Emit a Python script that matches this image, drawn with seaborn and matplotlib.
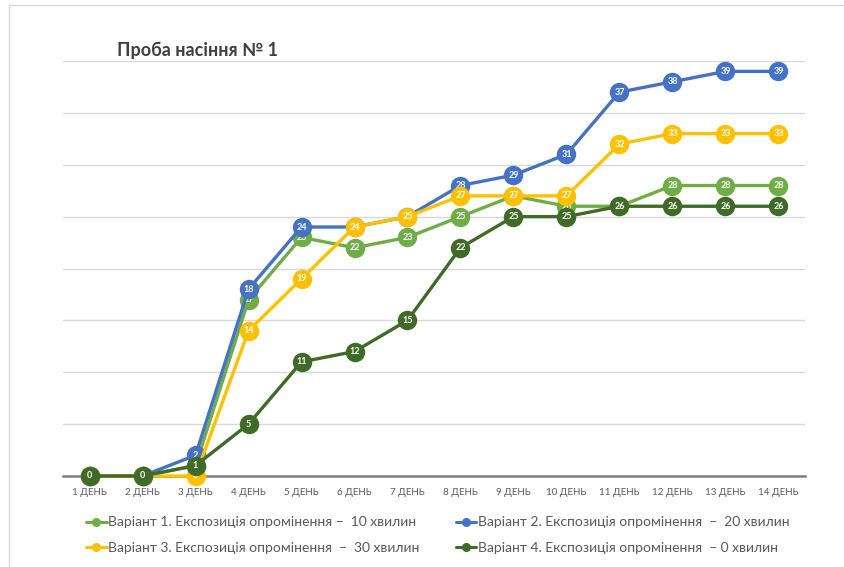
import numpy as np
import pandas as pd
import seaborn as sns
import matplotlib.pyplot as plt
from matplotlib.lines import Line2D

# Data
days = ['1 ДЕНЬ', '2 ДЕНЬ', '3 ДЕНЬ', '4 ДЕНЬ', '5 ДЕНЬ', '6 ДЕНЬ', '7 ДЕНЬ',
        '8 ДЕНЬ', '9 ДЕНЬ', '10 ДЕНЬ', '11 ДЕНЬ', '12 ДЕНЬ', '13 ДЕНЬ', '14 ДЕНЬ']
variant1 = [0, 0, 1, 17, 23, 22, 23, 25, 27, 26, 26, 28, 28, 28]
variant2 = [0, 0, 2, 18, 24, 24, 25, 28, 29, 31, 37, 38, 39, 39]
variant3 = [0, 0, 0, 14, 19, 24, 25, 27, 27, 27, 32, 33, 33, 33]
variant4 = [0, 0, 1, 5, 11, 12, 15, 22, 25, 25, 26, 26, 26, 26]
labels = [
    'Варіант 1. Експозиція опромінення –  10 хвилин',
    'Варіант 2. Експозиція опромінення  –  20 хвилин',
    'Варіант 3. Експозиція опромінення  –  30 хвилин',
    'Варіант 4. Експозиція опромінення  – 0 хвилин',
]
colors = ['#70AD47', '#4472C4', '#FFC000', '#3F6A27']
title = 'Проба насіння № 1'

sns.set_theme(style='white')
plt.rcParams['font.family'] = ['Lato', 'DejaVu Sans']

fig = plt.figure(figsize=(8.45, 5.67), dpi=100)
ax = fig.add_axes([0.0746, 0.1605, 0.878, 0.7319])

x = np.arange(len(days))
series = [variant1, variant2, variant3, variant4]
handles = []
for i, (vals, lab, col) in enumerate(zip(series, labels, colors)):
    sns.lineplot(x=x, y=vals, ax=ax, color=col, linewidth=2.4, marker='o',
                 markersize=14, markeredgewidth=0, zorder=3 + i, clip_on=False)
    for xi, v in zip(x, vals):
        ax.text(xi, v, str(v), color='white', fontsize=6.5, fontweight='bold',
                ha='center', va='center', zorder=3 + i, clip_on=False)
    handles.append(Line2D([0], [0], color=col, linewidth=2.2, marker='o',
                          markersize=5.5, label=lab))

ax.set_xlim(-0.5, len(days) - 0.5)
ax.set_ylim(0, 40)
ax.set_yticks(np.arange(0, 41, 5))
ax.set_yticklabels([])
ax.tick_params(axis='y', length=0)
ax.yaxis.grid(True, color='#d9d9d9', linewidth=1)
ax.set_axisbelow(True)
ax.set_xticks(x)
ax.set_xticklabels(days, fontsize=7, color='#595959')
ax.tick_params(axis='x', length=0, pad=9)
for s in ['top', 'right', 'left']:
    ax.spines[s].set_visible(False)
ax.spines['bottom'].set_color('#808080')
ax.spines['bottom'].set_linewidth(1.8)
ax.spines['bottom'].set_zorder(2)

fig.text(117 / 845, 1 - 50 / 567, title, fontsize=13, fontweight='bold',
         color='#404040', ha='left', va='center')

# legend: row 1 -> V1, V2 ; row 2 -> V3, V4
order = [0, 2, 1, 3]
fig.legend([handles[k] for k in order], [labels[k] for k in order],
           ncol=2, loc='center', bbox_to_anchor=(0.518, 0.0564), frameon=False,
           fontsize=10, labelcolor='#595959', handlelength=1.5,
           handletextpad=0.1, columnspacing=2.6, labelspacing=0.95)

# light frame like the source screenshot
fig.add_artist(Line2D([9 / 845, 1], [1 - 5 / 567, 1 - 5 / 567],
                      transform=fig.transFigure, color='#d9d9d9', linewidth=1))
fig.add_artist(Line2D([9 / 845, 9 / 845], [0, 1 - 5 / 567],
                      transform=fig.transFigure, color='#d9d9d9', linewidth=1))

fig.savefig('out.png', dpi=100)
